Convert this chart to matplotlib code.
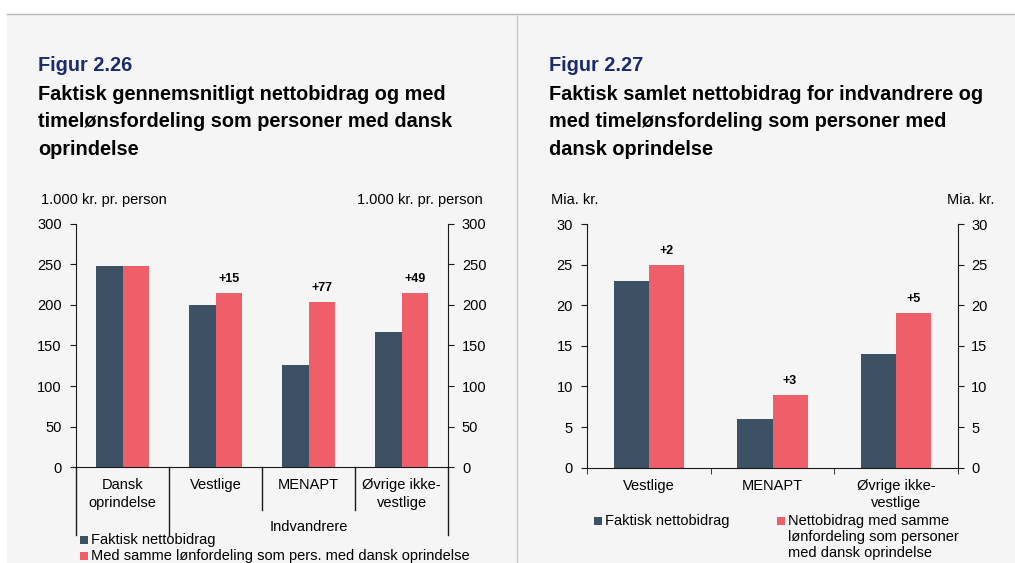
import numpy as np
import matplotlib.pyplot as plt
from matplotlib.patches import Rectangle
from matplotlib.lines import Line2D

plt.rcParams['font.family'] = ['Liberation Sans', 'DejaVu Sans']

# Data - figur 2.26 (1.000 kr. pr. person)
cats_left = ['Dansk\noprindelse', 'Vestlige', 'MENAPT', 'Øvrige ikke-\nvestlige']
faktisk_left = [248, 200, 126, 166]
samme_left = [248, 215, 203, 215]
diff_left = ['', '+15', '+77', '+49']

# Data - figur 2.27 (mia. kr.)
cats_right = ['Vestlige', 'MENAPT', 'Øvrige ikke-\nvestlige']
faktisk_right = [23, 6, 14]
samme_right = [25, 9, 19]
diff_right = ['+2', '+3', '+5']

DARK = '#3c5264'
RED = '#ee5f69'
NAVY = '#1b2b6b'
BG = '#f5f5f5'
SPINE = '#1a1a1a'
W, H = 1015, 563
FS = 10.5


def fx(px):
    return px / W


def fy(py):
    return 1 - py / H


fig = plt.figure(figsize=(W / 100, H / 100), dpi=100)
fig.patch.set_facecolor('white')

# panel background + borders
fig.add_artist(Rectangle((fx(7), 0), 1 - fx(7), fy(14), transform=fig.transFigure,
                         facecolor=BG, edgecolor='none', zorder=-10))
fig.add_artist(Line2D([fx(7), 1], [fy(14), fy(14)], transform=fig.transFigure, color='#b5b5b5', lw=1))
fig.add_artist(Line2D([fx(517), fx(517)], [0, fy(14)], transform=fig.transFigure, color='#c8c8c8', lw=1))


def titles(x, fig_no, lines):
    fig.text(fx(x), fy(71), fig_no, color=NAVY, fontsize=14.3, fontweight='bold', va='baseline')
    for i, ln in enumerate(lines):
        fig.text(fx(x), fy(99.5 + 27.5 * i), ln, color='black', fontsize=14.3, fontweight='bold', va='baseline')


titles(38, 'Figur 2.26', ['Faktisk gennemsnitligt nettobidrag og med',
                          'timelønsfordeling som personer med dansk',
                          'oprindelse'])
titles(549, 'Figur 2.27', ['Faktisk samlet nettobidrag for indvandrere og',
                           'med timelønsfordeling som personer med',
                           'dansk oprindelse'])


def make_axes(left, right, top, bottom, ymax, step):
    ax = fig.add_axes([fx(left), fy(bottom), (right - left) / W, (bottom - top) / H])
    ax.set_facecolor('none')
    ax.set_ylim(0, ymax)
    ax.set_yticks(np.arange(0, ymax + 1, step))
    for s in ['top', 'right']:
        ax.spines[s].set_visible(False)
    for s in ['left', 'bottom']:
        ax.spines[s].set_color(SPINE)
    ax.tick_params(axis='y', length=4.3, color=SPINE, labelsize=FS, pad=6)
    ax2 = ax.twinx()
    ax2.set_ylim(0, ymax)
    ax2.set_yticks(np.arange(0, ymax + 1, step))
    for s in ['top', 'left', 'bottom']:
        ax2.spines[s].set_visible(False)
    ax2.spines['right'].set_color(SPINE)
    ax2.tick_params(axis='y', length=4.3, color=SPINE, labelsize=FS, pad=5.5)
    return ax


def bars(ax, cats, v1, v2, diffs):
    x = np.arange(len(cats))
    bw = 0.285
    ax.bar(x - bw / 2, v1, bw, color=DARK, zorder=2)
    ax.bar(x + bw / 2, v2, bw, color=RED, zorder=2)
    for xi, yi, t in zip(x, v2, diffs):
        if t:
            ax.annotate(t, (xi + bw / 2, yi), xytext=(0, 10), textcoords='offset points',
                        ha='center', va='center', fontsize=9, fontweight='bold')
    ax.set_xlim(-0.5, len(cats) - 0.5)
    ax.set_xticks(x)
    ax.set_xticklabels(cats, fontsize=FS, linespacing=1.3)
    ax.tick_params(axis='x', which='major', length=0, pad=8)


# --- left chart ---
axL = make_axes(76, 448.3, 223.5, 467.3, 300, 50)
bars(axL, cats_left, faktisk_left, samme_left, diff_left)
tr = axL.get_xaxis_transform()
for xb in [-0.5, 0.5, 1.5, 2.5, 3.5]:
    depth = -0.175 if xb in (1.5, 2.5) else -0.278
    axL.plot([xb, xb], [0, depth], transform=tr, color=SPINE, lw=1, clip_on=False)
axL.text(2.0, -0.245, 'Indvandrere', transform=tr, ha='center', va='center', fontsize=FS)

fig.text(fx(41), fy(200), '1.000 kr. pr. person', fontsize=FS, va='center', ha='left')
fig.text(fx(483), fy(200), '1.000 kr. pr. person', fontsize=FS, va='center', ha='right')

# --- right chart ---
axR = make_axes(587.3, 957.7, 224, 467.7, 30, 5)
bars(axR, cats_right, faktisk_right, samme_right, diff_right)
axR.set_xticks([-0.5, 0.5, 1.5, 2.5], minor=True)
axR.tick_params(axis='x', which='minor', length=4.3, color=SPINE)

fig.text(fx(551), fy(200), 'Mia. kr.', fontsize=FS, va='center', ha='left')
fig.text(fx(994), fy(200), 'Mia. kr.', fontsize=FS, va='center', ha='right')


# legends
def legend_item(x, y, color, lines):
    fig.add_artist(Rectangle((fx(x), fy(y + 4)), 8 / W, 8 / H, transform=fig.transFigure,
                             facecolor=color, edgecolor='none'))
    for i, ln in enumerate(lines):
        fig.text(fx(x + 11), fy(y + 16 * i), ln, fontsize=FS, va='center', ha='left')


legend_item(80, 540, DARK, ['Faktisk nettobidrag'])
legend_item(80, 556, RED, ['Med samme lønfordeling som pers. med dansk oprindelse'])
legend_item(594, 521, DARK, ['Faktisk nettobidrag'])
legend_item(777, 521, RED, ['Nettobidrag med samme', 'lønfordeling som personer', 'med dansk oprindelse'])

fig.savefig('out.png', dpi=100)
